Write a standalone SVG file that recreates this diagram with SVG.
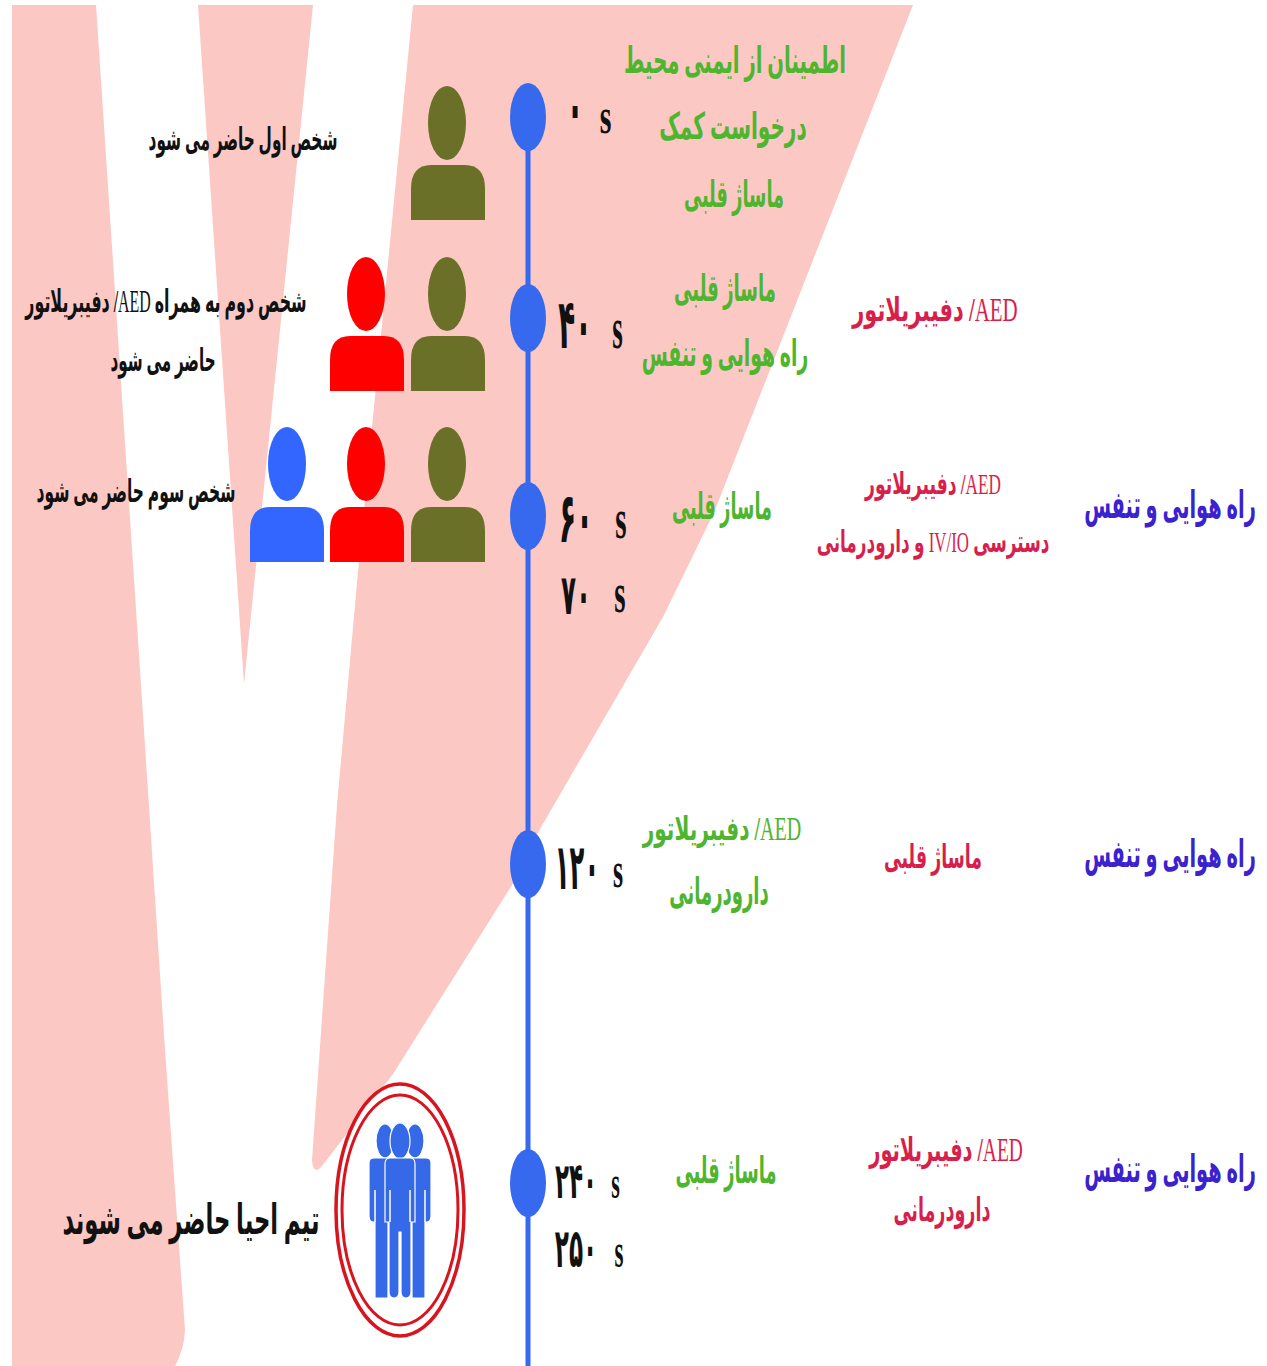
<svg xmlns="http://www.w3.org/2000/svg" width="1267" height="1366" viewBox="0 0 1267 1366">
<style>
text{font-family:"Liberation Serif","DejaVu Sans",sans-serif;font-weight:bold;text-anchor:middle;direction:rtl;unicode-bidi:embed}
.g{fill:#4eb52f;font-size:37px}
.r{fill:#d81f4b;font-size:33px}
.r2{fill:#d81f4b;font-size:30px}
.b{fill:#3a22cf;font-size:38px}
.k{fill:#111;font-size:31px}
.n{fill:#111;direction:ltr}
.s{fill:#111;direction:ltr}
.lat{font-weight:normal}
.ol{fill:#6b7028}.rd{fill:#ff0000}.bl{fill:#3366ff}
.tn{fill:#3669ee}
</style>
<defs>
<path id="body" d="M-37,55V24Q-37,0-17,0H17Q37,0 37,24V55Z"/>
</defs>
<rect width="1267" height="1366" fill="#fff"/>
<g id="background" fill="#fbc8c4">
<path d="M12,5H96L142,700L165,1050L185,1330Q184,1350 175,1366H12Z"/>
<path d="M198,5H313L244,684Z"/>
<path d="M413,5H913L715,510Q690,562 663,617L540,829L512,885L393,1074L322,1166Q313,1176 312,1160L337,805L358,572Z"/>
</g>
<g id="connectors"><line x1="528" y1="100" x2="528" y2="1366" stroke="#3669ee" stroke-width="5"/></g>
<g id="node-0"><ellipse class="tn" cx="528" cy="117" rx="18" ry="34"/>
<text class="n" transform="translate(575,132) scale(.4,1)" style="font-size:70px">۰</text><text class="s" transform="translate(605.5,133) scale(.6,1)" style="font-size:50px">s</text>
<g class="ol"><ellipse cx="447" cy="123" rx="19" ry="37"/><use href="#body" x="448" y="165"/></g>
<text class="k" transform="translate(243,150) scale(.494,1)">شخص اول حاضر می شود</text>
<text class="g" transform="translate(735,73) scale(.531,1)">اطمینان از ایمنی محیط</text>
<text class="g" transform="translate(733,139) scale(.5425,1)">درخواست کمک</text>
<text class="g" transform="translate(734,207) scale(.477,1)">ماساژ قلبی</text>
</g>
<g id="node-40"><ellipse class="tn" cx="528" cy="318" rx="18" ry="34"/>
<text class="n" transform="translate(575,348) scale(.4,1)" style="font-size:69px">۴۰</text><text class="s" transform="translate(617.5,348) scale(.45,1)" style="font-size:60px">s</text>
<g class="ol"><ellipse cx="447" cy="294" rx="19" ry="37"/><use href="#body" x="448" y="336"/></g>
<g class="rd"><ellipse cx="366" cy="294" rx="19" ry="37"/><use href="#body" x="367" y="336"/></g>
<text class="k" transform="translate(166,312) scale(.512,1)">شخص دوم به همراه <tspan class="lat">AED</tspan>/ دفیبریلاتور</text>
<text class="k" transform="translate(163,371) scale(.489,1)">حاضر می شود</text>
<text class="g" transform="translate(725,301) scale(.486,1)">ماساژ قلبی</text>
<text class="g" transform="translate(725,366) scale(.509,1)">راه هوایی و تنفس</text>
<text class="r" transform="translate(935,321) scale(.635,1)"><tspan class="lat">AED</tspan>/ دفیبریلاتور</text>
</g>
<g id="node-60"><ellipse class="tn" cx="528" cy="516" rx="18" ry="34"/>
<text class="n" transform="translate(576,542) scale(.4,1)" style="font-size:70px">۶۰</text><text class="s" transform="translate(621,538) scale(.5,1)" style="font-size:58px">s</text>
<text class="n" transform="translate(576,614) scale(.44,1)" style="font-size:56px">۷۰</text><text class="s" transform="translate(620,612) scale(.5,1)" style="font-size:58px">s</text>
<g class="ol"><ellipse cx="447" cy="464" rx="19" ry="37"/><use href="#body" x="448" y="507"/></g>
<g class="rd"><ellipse cx="366" cy="464" rx="19" ry="37"/><use href="#body" x="367" y="507"/></g>
<g class="bl"><ellipse cx="287" cy="464" rx="19" ry="37"/><use href="#body" x="287" y="507"/></g>
<text class="k" transform="translate(136,502) scale(.4995,1)">شخص سوم حاضر می شود</text>
<text class="g" transform="translate(722,519) scale(.477,1)">ماساژ قلبی</text>
<text class="r2" transform="translate(933,494) scale(.574,1)"><tspan class="lat">AED</tspan>/ دفیبریلاتور</text>
<text class="r2" transform="translate(933,552) scale(.562,1)">دسترسی <tspan class="lat">IV/IO</tspan> و دارودرمانی</text>
<text class="b" transform="translate(1170,518) scale(.511,1)">راه هوایی و تنفس</text>
</g>
<g id="node-120"><ellipse class="tn" cx="528" cy="864" rx="18" ry="34"/>
<text class="n" transform="translate(577,889) scale(.38,1)" style="font-size:64px">۱۲۰</text><text class="s" transform="translate(618,887) scale(.52,1)" style="font-size:50px">s</text>
<text class="g" transform="translate(722,840) scale(.608,1)" style="font-size:33px"><tspan class="lat">AED</tspan>/ دفیبریلاتور</text>
<text class="g" transform="translate(719,904) scale(.487,1)">دارودرمانی</text>
<text class="r" transform="translate(933,868) scale(.524,1)">ماساژ قلبی</text>
<text class="b" transform="translate(1170,867) scale(.511,1)">راه هوایی و تنفس</text>
</g>
<g id="node-240"><ellipse class="tn" cx="528" cy="1183" rx="18" ry="34"/>
<text class="n" transform="translate(576,1198) scale(.46,1)" style="font-size:50px">۲۴۰</text><text class="s" transform="translate(615.5,1198) scale(.48,1)" style="font-size:46px">s</text>
<text class="n" transform="translate(576,1267) scale(.43,1)" style="font-size:54px">۲۵۰</text><text class="s" transform="translate(619,1267) scale(.48,1)" style="font-size:48px">s</text>
<text class="g" transform="translate(726,1183) scale(.482,1)">ماساژ قلبی</text>
<text class="r" transform="translate(946,1161) scale(.589,1)"><tspan class="lat">AED</tspan>/ دفیبریلاتور</text>
<text class="r" transform="translate(942,1221) scale(.532,1)">دارودرمانی</text>
<text class="b" transform="translate(1170,1182) scale(.511,1)">راه هوایی و تنفس</text>
</g>
<g id="team">
<ellipse cx="400" cy="1210" rx="64" ry="126" fill="#fff" stroke="#d8151f" stroke-width="3.5"/>
<ellipse cx="400" cy="1210" rx="58" ry="115" fill="none" stroke="#d8151f" stroke-width="3"/>
<g fill="#3669e8" stroke="#fff" stroke-width="1.2">
<ellipse cx="385" cy="1141" rx="9" ry="17"/><ellipse cx="415" cy="1141" rx="9" ry="17"/>
<path d="M374,1158H388V1298H375V1222H373Q369,1222 369,1216V1163Q369,1158 374,1158Z"/>
<path d="M426,1158H412V1298H425V1222H427Q431,1222 431,1216V1163Q431,1158 426,1158Z"/>
<ellipse cx="400" cy="1141" rx="10" ry="18"/>
<path d="M390,1158H410Q415,1158 415,1164V1222H411V1292Q411,1298 406,1298Q401,1298 401,1292V1232H399V1292Q399,1298 394,1298Q389,1298 389,1292V1222H385V1164Q385,1158 390,1158Z"/>
<path d="M375,1190V1222M425,1190V1222M390,1190V1222M410,1190V1222" fill="none" stroke-width="1.5"/>
</g>
<text transform="translate(191,1234) scale(.542,1)" style="fill:#111;font-size:42px">تیم احیا حاضر می شوند</text>
</g>
</svg>
